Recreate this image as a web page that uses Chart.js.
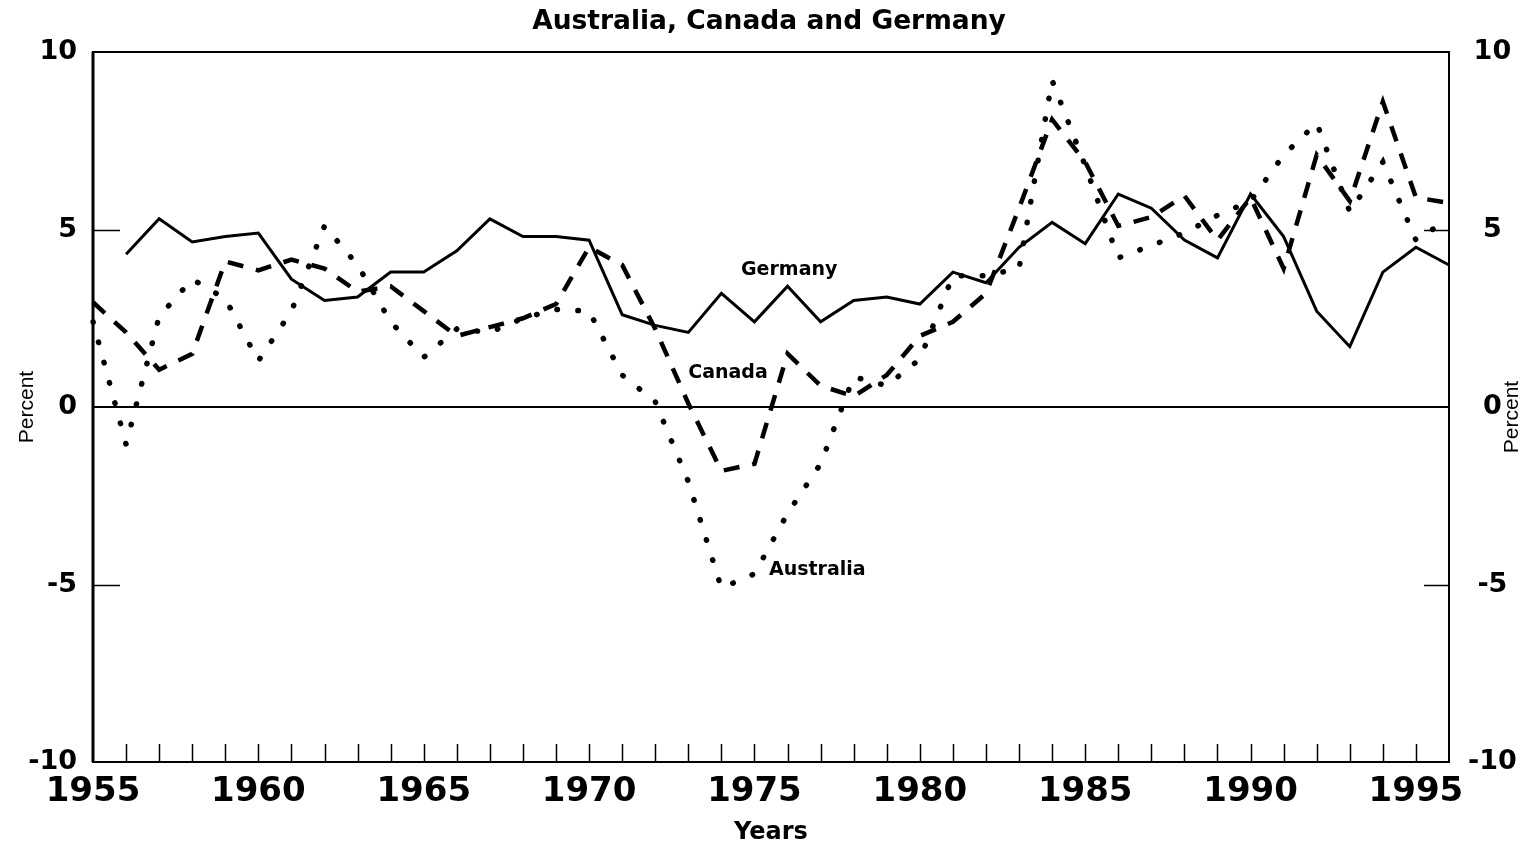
<!DOCTYPE html>
<html>
<head>
<meta charset="utf-8">
<title>Australia, Canada and Germany</title>
<script src="https://cdn.jsdelivr.net/npm/chart.js@4.4.1/dist/chart.umd.min.js"></script>
<style>
    html, body { margin: 0; padding: 0; background: #ffffff; }
    #chartBox { width: 1538px; height: 846px; }
</style>
</head>
<body>
<div id="chartBox"><canvas id="growthChart" width="1538" height="846"></canvas></div>
<script>
// --- PART 1: THE DATA ---
const years = [
    1955, 1956, 1957, 1958, 1959, 1960, 1961, 1962, 1963, 1964,
    1965, 1966, 1967, 1968, 1969, 1970, 1971, 1972, 1973, 1974,
    1975, 1976, 1977, 1978, 1979, 1980, 1981, 1982, 1983, 1984,
    1985, 1986, 1987, 1988, 1989, 1990, 1991, 1992, 1993, 1994,
    1995, 1996
];

const germany = [
    null, 4.3, 5.3, 4.65, 4.8, 4.9, 3.6, 3.0, 3.1, 3.8,
    3.8, 4.4, 5.3, 4.8, 4.8, 4.7, 2.6, 2.3, 2.1, 3.2,
    2.4, 3.4, 2.4, 3.0, 3.1, 2.9, 3.8, 3.5, 4.5, 5.2,
    4.6, 6.0, 5.6, 4.7, 4.2, 6.0, 4.8, 2.7, 1.7, 3.8,
    4.5, 4.0
];

const canada = [
    2.95, 2.1, 1.05, 1.5, 4.1, 3.85, 4.15, 3.9, 3.25, 3.4,
    2.7, 2.0, 2.25, 2.5, 2.9, 4.5, 4.0, 2.2, 0.1, -1.8,
    -1.6, 1.5, 0.6, 0.3, 0.9, 2.0, 2.4, 3.2, 5.6, 8.1,
    6.9, 5.1, 5.35, 5.95, 4.7, 5.9, 3.9, 7.1, 5.8, 8.6,
    5.9, 5.75
];

const australia = [
    2.4, -1.05, 2.55, 3.6, 3.05, 1.3, 2.7, 5.1, 4.0, 2.4,
    1.4, 2.2, 2.1, 2.5, 2.75, 2.7, 0.9, 0.15, -2.1, -5.1,
    -4.7, -3.0, -1.6, 0.85, 0.6, 1.35, 3.7, 3.7, 3.9, 9.2,
    6.8, 4.2, 4.55, 4.9, 5.4, 5.8, 7.1, 8.0, 5.5, 6.9,
    4.7, 5.3
];

// Tick labels
const yTicks = [-10, -5, 0, 5, 10];
const xLabelStep = 5;

// Series names written on the plot, anchored at (year, percent)
const seriesNames = ['Germany', 'Canada', 'Australia'];
const nameYears = [1976.05, 1974.2, 1976.9];
const nameValues = [3.85, 0.95, -4.6];

// --- PART 2: HELPERS ---
const NUM_FONT = '"DejaVu Sans", sans-serif';
const TEXT_FONT = '"Liberation Sans", Arial, sans-serif';

// Turn a year into the category index (fractions allowed)
function yearIndex(year) {
    return year - years[0];
}

// Plugin: frame, inward tick marks, names on the lines, right "Percent"
const decorations = {
    id: 'decorations',
    afterDatasetsDraw(chart) {
        const ctx = chart.ctx;
        const area = chart.chartArea;
        const xs = chart.scales.x;
        const ys = chart.scales.y;

        ctx.save();
        ctx.strokeStyle = '#000';
        ctx.lineCap = 'butt';

        // 1. small ticks rising from the bottom edge, one per year
        ctx.lineWidth = 1.5;
        for (let i = 1; i < years.length - 1; i++) {
            let px = Math.round(xs.getPixelForValue(i)) + 0.5;
            ctx.beginPath();
            ctx.moveTo(px, area.bottom);
            ctx.lineTo(px, area.bottom - 18);
            ctx.stroke();
        }

        // 2. short ticks at +5 and -5 on both sides
        [5, -5].forEach(v => {
            let py = Math.round(ys.getPixelForValue(v)) + 0.5;
            ctx.beginPath();
            ctx.moveTo(area.left, py);
            ctx.lineTo(area.left + 27, py);
            ctx.moveTo(area.right - 25, py);
            ctx.lineTo(area.right, py);
            ctx.stroke();
        });

        // 3. the box round the plot
        ctx.lineWidth = 2;
        ctx.strokeRect(area.left, area.top, area.right - area.left, area.bottom - area.top);
        ctx.lineWidth = 3;
        ctx.beginPath();
        ctx.moveTo(area.left, area.top);
        ctx.lineTo(area.left, area.bottom);
        ctx.stroke();

        // 4. series names
        ctx.fillStyle = '#000';
        ctx.font = 'bold 19px ' + NUM_FONT;
        ctx.textAlign = 'center';
        ctx.textBaseline = 'middle';
        for (let i = 0; i < seriesNames.length; i++) {
            let px = xs.getPixelForValue(yearIndex(nameYears[i]));
            let py = ys.getPixelForValue(nameValues[i]);
            ctx.fillText(seriesNames[i], px, py);
        }

        // 5. right hand axis title, reading upwards like the left one
        ctx.font = '21px ' + TEXT_FONT;
        ctx.translate(1512, (area.top + area.bottom) / 2 + 10);
        ctx.rotate(-Math.PI / 2);
        ctx.fillText('Percent', 0, 0);
        ctx.restore();
    }
};

// --- PART 3: DRAW THE CHART ---
const ctx = document.getElementById('growthChart');
if (ctx) {
    new Chart(ctx, {
        type: 'line',
        data: {
            labels: years,
            datasets: [
                {
                    label: 'Germany',
                    data: germany,
                    borderColor: '#000',
                    borderWidth: 3,
                    pointRadius: 0,
                    tension: 0,
                    fill: false,
                    yAxisID: 'y'
                },
                {
                    label: 'Canada',
                    data: canada,
                    borderColor: '#000',
                    borderWidth: 4.5,
                    borderDash: [16, 13],
                    borderCapStyle: 'butt',
                    pointRadius: 0,
                    tension: 0,
                    fill: false,
                    yAxisID: 'y'
                },
                {
                    label: 'Australia',
                    data: australia,
                    borderColor: '#000',
                    borderWidth: 5.5,
                    borderDash: [0.5, 20.5],
                    borderCapStyle: 'round',
                    pointRadius: 0,
                    tension: 0,
                    fill: false,
                    yAxisID: 'y'
                }
            ]
        },
        options: {
            responsive: false,
            devicePixelRatio: 1,
            animation: false,
            layout: { padding: 0 },
            plugins: {
                legend: { display: false },
                tooltip: { enabled: false },
                title: {
                    display: true,
                    text: 'Australia, Canada and Germany',
                    color: '#000',
                    font: { family: NUM_FONT, size: 26.5, weight: 'bold', lineHeight: 1.2 },
                    padding: { top: 6, bottom: 14.2 }
                }
            },
            scales: {
                x: {
                    type: 'category',
                    offset: false,
                    grid: { display: false, drawTicks: false },
                    border: { display: false },
                    ticks: {
                        autoSkip: false,
                        maxRotation: 0,
                        minRotation: 0,
                        padding: 10,
                        color: '#000',
                        font: { family: NUM_FONT, size: 34, weight: 'bold', lineHeight: 1.2 },
                        callback: (val, i) => (years[i] % xLabelStep === 0 ? String(years[i]) : '')
                    },
                    title: {
                        display: true,
                        text: 'Years',
                        color: '#000',
                        font: { family: NUM_FONT, size: 24, weight: 'bold', lineHeight: 1.2 },
                        padding: { top: 0, bottom: -1 }
                    },
                    afterFit: scale => { scale.height = 84; }
                },
                y: {
                    position: 'left',
                    min: yTicks[0],
                    max: yTicks[yTicks.length - 1],
                    afterBuildTicks: scale => { scale.ticks = yTicks.map(v => ({ value: v })); },
                    grid: {
                        drawTicks: false,
                        lineWidth: 2,
                        color: c => (c.tick && c.tick.value === 0 ? '#000' : 'rgba(0,0,0,0)')
                    },
                    border: { display: false },
                    ticks: {
                        padding: 16,
                        color: '#000',
                        font: { family: NUM_FONT, size: 27, weight: 'bold' }
                    },
                    title: {
                        display: true,
                        text: 'Percent',
                        color: '#000',
                        font: { family: TEXT_FONT, size: 21, lineHeight: 1.2 },
                        padding: { top: 15, bottom: 0 }
                    },
                    afterFit: scale => { scale.width = 93; }
                },
                y2: {
                    position: 'right',
                    min: yTicks[0],
                    max: yTicks[yTicks.length - 1],
                    afterBuildTicks: scale => { scale.ticks = yTicks.map(v => ({ value: v })); },
                    grid: {
                        drawOnChartArea: false,
                        drawTicks: true,
                        tickLength: 16,
                        tickColor: 'rgba(0,0,0,0)'
                    },
                    border: { display: false },
                    ticks: {
                        crossAlign: 'center',
                        color: '#000',
                        font: { family: NUM_FONT, size: 27, weight: 'bold' }
                    },
                    afterFit: scale => { scale.width = 89; }
                }
            }
        },
        plugins: [decorations]
    });
}
</script>
</body>
</html>
